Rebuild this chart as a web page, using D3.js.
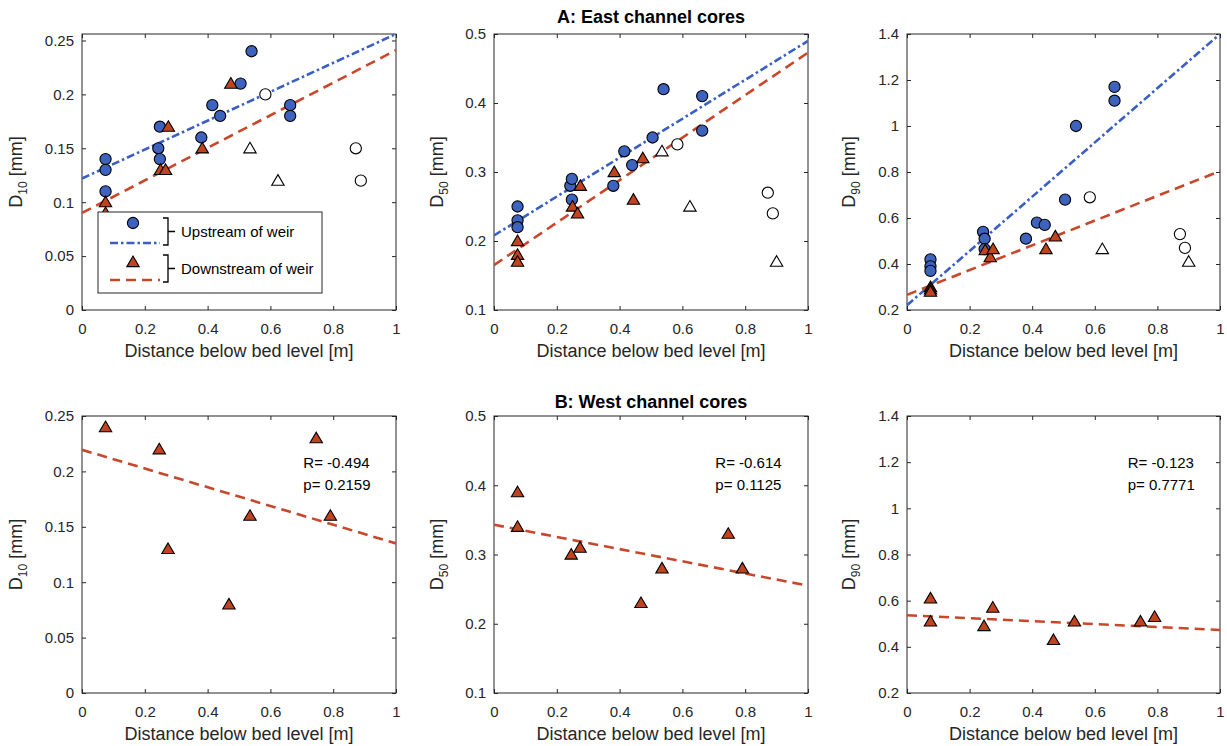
<!DOCTYPE html>
<html>
  <head>
    <title>Grain size vs depth</title>
    <script src="https://d3js.org/d3.v7.min.js"></script>
    <style>
      body { margin: 0; background: #fff; }
      text { font-family: "Liberation Sans", Arial, sans-serif; fill: #262626; }
      .tick text { font-size: 15px; }
      .axis path, .axis line { stroke: #262626; }
      .axis-label { font-size: 18px; }
      .panel-title { font-size: 18px; font-weight: bold; fill: #000; }
      .stat { font-size: 15px; fill: #000; }
      .legend text { font-size: 15px; fill: #000; }
    </style>
  </head>
  <body>
    <svg width="1227" height="746"></svg>
    <script>
      // ---- data ----
      const xTicks = [0, 0.2, 0.4, 0.6, 0.8, 1];
      const yTicksD10 = [0, 0.05, 0.1, 0.15, 0.2, 0.25];
      const yTicksD50 = [0.1, 0.2, 0.3, 0.4, 0.5];
      const yTicksD90 = [0.2, 0.4, 0.6, 0.8, 1, 1.2, 1.4];

      // East channel, upstream of weir (filled circles)
      const upX   = [0.075, 0.075, 0.075, 0.243, 0.248, 0.248, 0.38, 0.415, 0.44, 0.505, 0.54, 0.663, 0.663];
      const upD10 = [0.14, 0.13, 0.11, 0.15, 0.17, 0.14, 0.16, 0.19, 0.18, 0.21, 0.24, 0.19, 0.18];
      const upD50 = [0.25, 0.23, 0.22, 0.28, 0.29, 0.26, 0.28, 0.33, 0.31, 0.35, 0.42, 0.41, 0.36];
      const upD90 = [0.42, 0.39, 0.37, 0.54, 0.51, 0.465, 0.51, 0.58, 0.57, 0.68, 1.0, 1.17, 1.11];

      // East channel, downstream of weir (filled triangles)
      const downX   = [0.075, 0.075, 0.075, 0.25, 0.266, 0.275, 0.383, 0.444, 0.474];
      const downD10 = [0.10, 0.09, null, 0.13, 0.13, 0.17, 0.15, null, 0.21];
      const downD50 = [0.20, 0.18, 0.17, 0.25, 0.24, 0.28, 0.30, 0.26, 0.32];
      const downD90 = [0.30, 0.29, 0.28, 0.46, 0.43, 0.465, null, 0.465, 0.52];

      // East channel, excluded samples (open markers)
      const exCircX   = [0.584, 0.872, 0.888];
      const exCircD10 = [0.20, 0.15, 0.12];
      const exCircD50 = [0.34, 0.27, 0.24];
      const exCircD90 = [0.69, 0.53, 0.47];
      const exTriX    = [0.535, 0.624, 0.9];
      const exTriD10  = [0.15, 0.12, null];
      const exTriD50  = [0.33, 0.25, 0.17];
      const exTriD90  = [null, 0.465, 0.41];

      // regression lines, value at x = 0 and x = 1
      const fitX = [0, 1];
      const upFitD10 = [0.122, 0.256];
      const upFitD50 = [0.208, 0.49];
      const upFitD90 = [0.221, 1.4];
      const downFitD10 = [0.09, 0.241];
      const downFitD50 = [0.165, 0.473];
      const downFitD90 = [0.266, 0.804];

      // West channel (triangles)
      const westX   = [0.075, 0.075, 0.246, 0.274, 0.468, 0.535, 0.746, 0.791];
      const westD10 = [0.24, null, 0.22, 0.13, 0.08, 0.16, 0.23, 0.16];
      const westD50 = [0.39, 0.34, 0.30, 0.31, 0.23, 0.28, 0.33, 0.28];
      const westD90 = [0.61, 0.51, 0.49, 0.57, 0.43, 0.51, 0.51, 0.53];
      const westFitD10 = [0.2195, 0.135];
      const westFitD50 = [0.343, 0.255];
      const westFitD90 = [0.537, 0.473];
      const westStats = [["R= -0.494", "p= 0.2159"], ["R= -0.614", "p= 0.1125"], ["R= -0.123", "p= 0.7771"]];

      // ---- layout ----
      const blue = "#3d63be", red = "#c0441f";
      const blueLine = "#3a5fc4", redLine = "#c8472a";
      const cols = [[82, 396], [494, 808], [907, 1220]];
      const rows = [[34, 310], [416, 693]];
      const yLabelOff = [-60, -51, -52];
      const triPath = "M0,-6L6.2,4.6L-6.2,4.6Z";

      const svg = d3.select("svg");

      function pts(xs, ys) {
        return xs.map((x, i) => ({x: x, y: ys[i]})).filter(d => d.y != null);
      }

      function panel(ci, ri, o) {
        const [x0, x1] = cols[ci], [y0, y1] = rows[ri];
        const x = d3.scaleLinear().domain([0, 1]).range([x0, x1]);
        const y = d3.scaleLinear().domain(o.yDomain).range([y1, y0]);
        const g = svg.append("g");
        const clipId = "clip" + ci + ri;
        g.append("clipPath").attr("id", clipId)
          .append("rect").attr("x", x0).attr("y", y0).attr("width", x1 - x0).attr("height", y1 - y0);

        // axes, MATLAB style: inward ticks on all sides
        g.append("g").attr("class", "axis").attr("transform", `translate(0,${y1})`)
          .call(d3.axisBottom(x).tickValues(xTicks).tickSize(-4).tickPadding(13).tickFormat(d => String(d)))
          .call(a => a.select(".domain").remove());
        g.append("g").attr("class", "axis").attr("transform", `translate(0,${y0})`)
          .call(d3.axisTop(x).tickValues(xTicks).tickSize(-4).tickFormat(""))
          .call(a => a.select(".domain").remove());
        g.append("g").attr("class", "axis").attr("transform", `translate(${x0},0)`)
          .call(d3.axisLeft(y).tickValues(o.yTicks).tickSize(-4).tickPadding(8).tickFormat(d => String(d)))
          .call(a => a.select(".domain").remove());
        g.append("g").attr("class", "axis").attr("transform", `translate(${x1},0)`)
          .call(d3.axisRight(y).tickValues(o.yTicks).tickSize(-4).tickFormat(""))
          .call(a => a.select(".domain").remove());
        g.append("rect").attr("x", x0).attr("y", y0).attr("width", x1 - x0).attr("height", y1 - y0)
          .attr("fill", "none").attr("stroke", "#262626").attr("stroke-width", 1);

        // labels
        g.append("text").attr("class", "axis-label")
          .attr("x", (x0 + x1) / 2).attr("y", y1 + 47).attr("text-anchor", "middle")
          .text("Distance below bed level [m]");
        const yl = g.append("text").attr("class", "axis-label")
          .attr("transform", `translate(${x0 + yLabelOff[ci]},${(y0 + y1) / 2}) rotate(-90)`)
          .attr("text-anchor", "middle");
        yl.append("tspan").text("D");
        yl.append("tspan").attr("font-size", "12px").attr("dy", 5).text(o.sub);
        yl.append("tspan").attr("dy", -5).text(" [mm]");

        const plot = g.append("g").attr("clip-path", `url(#${clipId})`);
        const line = d3.line().x(d => x(d.x)).y(d => y(d.y));
        (o.fits || []).forEach(f => {
          plot.append("path").datum(pts(fitX, f.v)).attr("d", line)
            .attr("fill", "none").attr("stroke", f.color).attr("stroke-width", 2.6)
            .attr("stroke-dasharray", f.dash);
        });

        const mk = g.append("g");
        (o.circles || []).forEach(s => {
          mk.selectAll(null).data(s.data).join("circle")
            .attr("cx", d => x(d.x)).attr("cy", d => y(d.y)).attr("r", 5.6)
            .attr("fill", s.fill).attr("stroke", "#000").attr("stroke-width", 1.1);
        });
        (o.triangles || []).forEach(s => {
          mk.selectAll(null).data(s.data).join("path")
            .attr("d", triPath).attr("transform", d => `translate(${x(d.x)},${y(d.y)})`)
            .attr("fill", s.fill).attr("stroke", "#000").attr("stroke-width", 1.1);
        });

        if (o.stats) {
          const sx = x(0.705);
          g.append("text").attr("class", "stat").attr("x", sx).attr("y", y0 + 52).text(o.stats[0]);
          g.append("text").attr("class", "stat").attr("x", sx).attr("y", y0 + 74).text(o.stats[1]);
        }
        return g;
      }

      const dashDot = "8,3,2.5,3";
      const dashed = "10,6";

      // top row: East channel
      const eastY = [[0, 0.256], [0.1, 0.5], [0.2, 1.4]];
      const eastSets = [
        {sub: "10", yTicks: yTicksD10, up: upD10, down: downD10, exC: exCircD10, exT: exTriD10, uf: upFitD10, df: downFitD10},
        {sub: "50", yTicks: yTicksD50, up: upD50, down: downD50, exC: exCircD50, exT: exTriD50, uf: upFitD50, df: downFitD50},
        {sub: "90", yTicks: yTicksD90, up: upD90, down: downD90, exC: exCircD90, exT: exTriD90, uf: upFitD90, df: downFitD90}
      ];
      eastSets.forEach((s, i) => {
        panel(i, 0, {
          yDomain: eastY[i], yTicks: s.yTicks, sub: s.sub,
          fits: [{v: s.uf, color: blueLine, dash: dashDot}, {v: s.df, color: redLine, dash: dashed}],
          circles: [{data: pts(upX, s.up), fill: blue}, {data: pts(exCircX, s.exC), fill: "#fff"}],
          triangles: [{data: pts(downX, s.down), fill: red}, {data: pts(exTriX, s.exT), fill: "#fff"}]
        });
      });

      // bottom row: West channel
      const westY = [[0, 0.25], [0.1, 0.5], [0.2, 1.4]];
      const westSets = [
        {sub: "10", yTicks: yTicksD10, v: westD10, f: westFitD10},
        {sub: "50", yTicks: yTicksD50, v: westD50, f: westFitD50},
        {sub: "90", yTicks: yTicksD90, v: westD90, f: westFitD90}
      ];
      westSets.forEach((s, i) => {
        panel(i, 1, {
          yDomain: westY[i], yTicks: s.yTicks, sub: s.sub,
          fits: [{v: s.f, color: redLine, dash: dashed}],
          triangles: [{data: pts(westX, s.v), fill: red}],
          stats: westStats[i]
        });
      });

      // titles
      svg.append("text").attr("class", "panel-title").attr("x", 651).attr("y", 23)
        .attr("text-anchor", "middle").text("A: East channel cores");
      svg.append("text").attr("class", "panel-title").attr("x", 651).attr("y", 408)
        .attr("text-anchor", "middle").text("B: West channel cores");

      // legend in first panel
      const lg = svg.append("g").attr("class", "legend");
      lg.append("rect").attr("x", 98).attr("y", 212).attr("width", 224).attr("height", 81)
        .attr("fill", "#fff").attr("stroke", "#262626").attr("stroke-width", 1);
      const legendItems = [
        {label: "Upstream of weir", fill: blue, color: blueLine, dash: dashDot, shape: "circle", top: 218},
        {label: "Downstream of weir", fill: red, color: redLine, dash: dashed, shape: "tri", top: 255}
      ];
      legendItems.forEach(it => {
        const t = it.top;
        if (it.shape === "circle") {
          lg.append("circle").attr("cx", 133).attr("cy", t + 5).attr("r", 5.6)
            .attr("fill", it.fill).attr("stroke", "#000").attr("stroke-width", 1.1);
        } else {
          lg.append("path").attr("d", triPath).attr("transform", `translate(133,${t + 7})`)
            .attr("fill", it.fill).attr("stroke", "#000").attr("stroke-width", 1.1);
        }
        lg.append("line").attr("x1", 110).attr("x2", 160).attr("y1", t + 25).attr("y2", t + 25)
          .attr("stroke", it.color).attr("stroke-width", 2.6).attr("stroke-dasharray", it.dash);
        lg.append("path")
          .attr("d", `M163,${t}H168V${t + 27}H163M168,${t + 13.5}H175`)
          .attr("fill", "none").attr("stroke", "#000").attr("stroke-width", 1.3);
        lg.append("text").attr("x", 181).attr("y", t + 19).text(it.label);
      });
    </script>
  </body>
</html>
